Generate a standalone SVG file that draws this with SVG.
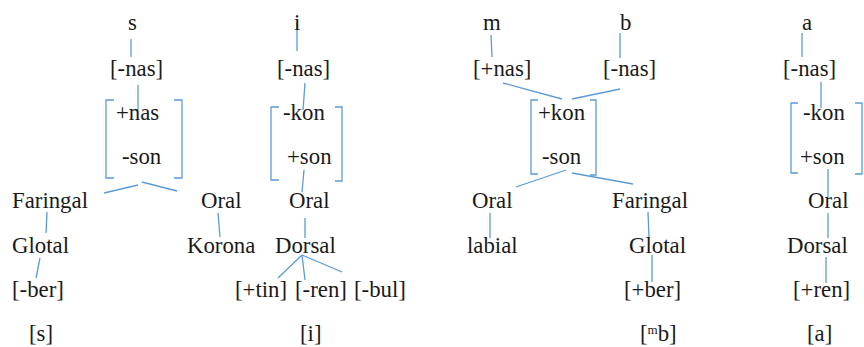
<svg xmlns="http://www.w3.org/2000/svg" width="864" height="347" viewBox="0 0 864 347">
<style>
text{font-family:"Liberation Serif","Times New Roman",serif;font-size:22.8px;fill:#1a1a1a}
.c line,.b path{stroke:#5b9bd5;stroke-width:1.3;fill:none}
.sup{font-size:13px}
</style>
<rect width="864" height="347" fill="#fff"/>
<g class="b" id="brackets">
<path d="M114,100H106V178H114M174,100H182V178H174"/>
<path d="M279,107H271V180H279M335,107H342V181H335"/>
<path d="M538,100H531V174H538M590,100H596V175H590"/>
<path d="M798,103H791V173H798M855,103H862V174H855"/>
</g>
<g class="c" id="connectors">
<line x1="131" y1="39" x2="131" y2="57"/>
<line x1="138" y1="85" x2="138" y2="110"/>
<line x1="104" y1="193" x2="138" y2="185"/>
<line x1="142" y1="182" x2="177" y2="191"/>
<line x1="47" y1="212" x2="46" y2="233"/>
<line x1="218" y1="213" x2="220" y2="237"/>
<line x1="40" y1="258" x2="36" y2="278"/>
<line x1="297" y1="23" x2="297" y2="51"/>
<line x1="305" y1="83" x2="303" y2="110"/>
<line x1="304" y1="170" x2="302" y2="192"/>
<line x1="305" y1="218" x2="305" y2="238"/>
<line x1="302" y1="255" x2="278" y2="278"/>
<line x1="302" y1="255" x2="305" y2="280"/>
<line x1="302" y1="255" x2="342" y2="272"/>
<line x1="491" y1="35" x2="492" y2="57"/>
<line x1="620" y1="33" x2="620" y2="58"/>
<line x1="503" y1="83" x2="562" y2="99"/>
<line x1="620" y1="89" x2="572" y2="99"/>
<line x1="566" y1="170" x2="516" y2="187"/>
<line x1="572" y1="173" x2="633" y2="184"/>
<line x1="490" y1="213" x2="490" y2="238"/>
<line x1="648" y1="212" x2="649" y2="238"/>
<line x1="652" y1="255" x2="652" y2="282"/>
<line x1="802" y1="33" x2="802" y2="57"/>
<line x1="821" y1="82" x2="821" y2="108"/>
<line x1="828" y1="169" x2="828" y2="197"/>
<line x1="828" y1="213" x2="828" y2="238"/>
<line x1="826" y1="257" x2="826" y2="283"/>
</g>
<g id="s-tree">
<g id="s1"><text x="128" y="30">s</text></g>
<g id="s2"><text x="110" y="76">[-nas]</text></g>
<g id="s3"><text x="116" y="120">+nas</text></g>
<g id="s4"><text x="122" y="164">-son</text></g>
<g id="s5"><text x="12" y="208">Faringal</text></g>
<g id="s6"><text x="201" y="208">Oral</text></g>
<g id="s7"><text x="12" y="253">Glotal</text></g>
<g id="s8"><text x="187" y="253">Korona</text></g>
<g id="s9"><text x="12" y="297">[-ber]</text></g>
<g id="s10"><text x="29" y="341">[s]</text></g>
</g>
<g id="i-tree">
<g id="i1"><text x="294" y="30">i</text></g>
<g id="i2"><text x="277" y="76">[-nas]</text></g>
<g id="i3"><text x="283" y="120">-kon</text></g>
<g id="i4"><text x="287" y="164">+son</text></g>
<g id="i5"><text x="289" y="208">Oral</text></g>
<g id="i6"><text x="275" y="253">Dorsal</text></g>
<g id="i7"><text x="235" y="297">[+tin]</text></g>
<g id="i8"><text x="295" y="297">[-ren]</text></g>
<g id="i9"><text x="354" y="297">[-bul]</text></g>
<g id="i10"><text x="300" y="341">[i]</text></g>
</g>
<g id="mb-tree">
<g id="m1"><text x="483" y="30">m</text></g>
<g id="b1"><text x="620" y="30">b</text></g>
<g id="m2"><text x="473" y="76">[+nas]</text></g>
<g id="b2"><text x="603" y="76">[-nas]</text></g>
<g id="mb3"><text x="538" y="120">+kon</text></g>
<g id="mb4"><text x="542" y="164">-son</text></g>
<g id="mb5"><text x="472" y="208">Oral</text></g>
<g id="mb6"><text x="612" y="208">Faringal</text></g>
<g id="mb7"><text x="467" y="253">labial</text></g>
<g id="mb8"><text x="629" y="253">Glotal</text></g>
<g id="mb9"><text x="624" y="297">[+ber]</text></g>
<g id="mb10"><text x="640" y="341">[<tspan class="sup" dy="-7">m</tspan><tspan dy="7">b]</tspan></text></g>
</g>
<g id="a-tree">
<g id="a1"><text x="802" y="30">a</text></g>
<g id="a2"><text x="783" y="76">[-nas]</text></g>
<g id="a3"><text x="803" y="120">-kon</text></g>
<g id="a4"><text x="800" y="164">+son</text></g>
<g id="a5"><text x="808" y="208">Oral</text></g>
<g id="a6"><text x="787" y="253">Dorsal</text></g>
<g id="a7"><text x="793" y="297">[+ren]</text></g>
<g id="a8"><text x="807" y="341">[a]</text></g>
</g>
</svg>
